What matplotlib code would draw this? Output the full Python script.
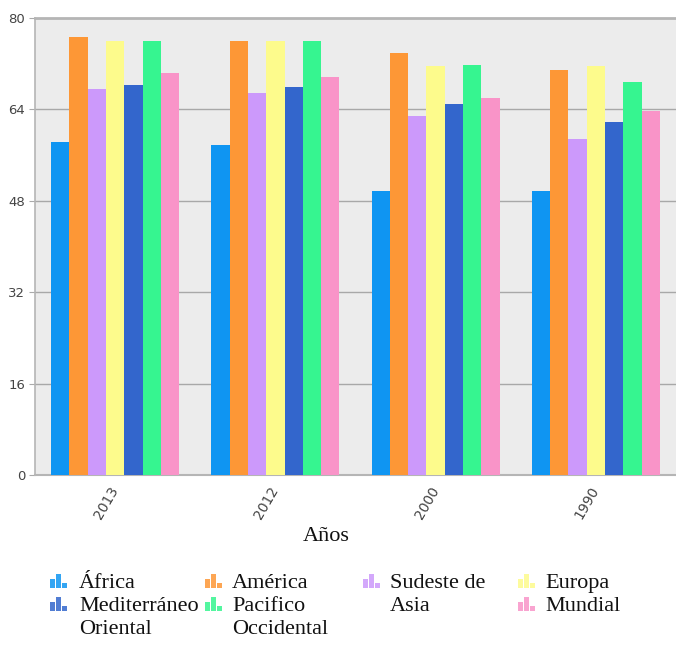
import matplotlib
matplotlib.use("Agg")
import matplotlib.pyplot as plt
import numpy as np
from matplotlib.patches import Rectangle

# ---- data ----
years = ["2013", "2012", "2000", "1990"]
series = ["África", "América", "Sudeste de Asia", "Europa",
          "Mediterráneo Oriental", "Pacifico Occidental", "Mundial"]
legend_labels = ["África", "América", "Sudeste de\nAsia", "Europa",
                 "Mediterráneo\nOriental", "Pacifico\nOccidental", "Mundial"]
africa = [58.3, 57.7, 49.8, 49.8]
america = [76.6, 75.9, 73.9, 70.9]
sudeste = [67.6, 66.8, 62.9, 58.8]
europa = [75.9, 75.9, 71.6, 71.6]
mediterraneo = [68.2, 67.9, 64.9, 61.8]
pacifico = [75.9, 75.9, 71.7, 68.8]
mundial = [70.3, 69.7, 66.0, 63.8]
values = [africa, america, sudeste, europa, mediterraneo, pacifico, mundial]
colors = ["#0f95f2", "#fd9736", "#cc99fb", "#fdfb8c",
          "#3366cc", "#36f590", "#f994c8"]
yticks = [0, 16, 32, 48, 64, 80]
xlabel = "Años"

W, H = 676, 646
fig = plt.figure(figsize=(W / 100, H / 100), dpi=100)
ax = fig.add_axes([35 / W, 1 - 475 / H, 641 / W, (475 - 18) / H])
ax.set_facecolor("#ececec")

n = len(series)
group_w = 0.8
bw = group_w / n
x = np.arange(len(years))
for i, (vals, c) in enumerate(zip(values, colors)):
    ax.bar(x - group_w / 2 + bw * (i + 0.5), vals, width=bw, color=c,
           linewidth=0, zorder=3)

ax.set_xlim(-0.5, len(years) - 0.5)
ax.set_ylim(0, 80)
ax.set_yticks(yticks)
ax.set_yticklabels([str(v) for v in yticks], fontsize=9.5, color="#444444",
                   family="DejaVu Sans")
ax.set_xticks(x)
ax.set_xticklabels(years, rotation=60, ha="right", va="center",
                   rotation_mode="anchor", fontsize=10, color="#444444",
                   family="DejaVu Sans")
ax.tick_params(axis="x", length=0, pad=9)
ax.tick_params(axis="y", length=4, color="#aaaaaa", pad=3)
for v in yticks[1:-1]:
    ax.axhline(v, color="#a8a8a8", linewidth=1, zorder=1)

ax.spines["right"].set_visible(False)
ax.spines["top"].set_color("#b5b5b5")
ax.spines["top"].set_linewidth(2)
ax.spines["left"].set_color("#b5b5b5")
ax.spines["left"].set_linewidth(1.2)
ax.spines["bottom"].set_color("#b5b5b5")
ax.spines["bottom"].set_linewidth(1.5)

fig.text(326 / W, 1 - 541 / H, xlabel, ha="center", va="baseline",
         fontsize=16, family="Liberation Serif", color="#111111")

# ---- manual legend (4 columns) ----
icon_x = [50, 205, 363, 518]
text_x = [79, 232, 390, 545]
rows = [588, 611]
line_h = 23
slots = [(0, 0), (1, 0), (2, 0), (3, 0), (0, 1), (1, 1), (3, 1)]


def draw_icon(px, py, color):
    bars = [(0, 5, 9), (6, 5, 14), (12, 5, 5)]
    for dx, w, h in bars:
        fig.add_artist(Rectangle(((px + dx) / W, 1 - py / H), w / W, h / H,
                                 transform=fig.transFigure, color=color,
                                 alpha=0.85, linewidth=0))


for lab, c, (col, row) in zip(legend_labels, colors, slots):
    by = rows[row]
    draw_icon(icon_x[col], by, c)
    for k, line in enumerate(lab.split("\n")):
        fig.text(text_x[col] / W, 1 - (by + k * line_h) / H, line,
                 ha="left", va="baseline", fontsize=16,
                 family="Liberation Serif", color="#111111")

fig.savefig("out.png", dpi=100)
